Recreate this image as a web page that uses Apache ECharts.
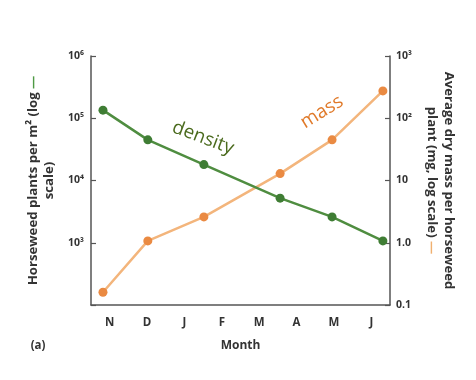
<!DOCTYPE html>
<html>
<head>
<meta charset="utf-8">
<script src="https://cdn.jsdelivr.net/npm/echarts@6/dist/echarts.min.js"></script>
<style>html,body{margin:0;padding:0;background:#fff;}#c{width:476px;height:380px;}</style>
</head>
<body>
<div id="c"></div>
<script>
const months = ['N','D','J','F','M','A','M','J'];
const sampleX = [-0.18, 1.02, 2.52, 4.56, 5.95, 7.31];
const density = [135000, 45000, 18000, 5200, 2600, 1070];
const mass = [0.16, 1.07, 2.6, 12.9, 45, 275];
const leftTicks = {100:'', 1000:'10³', 10000:'10⁴', 100000:'10⁵', 1000000:'10⁶'};
const rightTicks = {0.1:'0.1', 1:'1.0', 10:'10', 100:'10²', 1000:'10³'};

const FONT = '"Open Sans", "DejaVu Sans", sans-serif';
const AX = '#555';
const TF = 13.2;
const chart = echarts.init(document.getElementById('c'), null, {renderer:'canvas'});
function key(v){ const e = Math.round(Math.log10(v)); return Math.pow(10, e); }
chart.setOption({
  animation:false,
  grid:{left:91, right:86, top:56, bottom:75},
  xAxis:[
    {type:'value', min:-0.5, max:7.5, show:false},
    {type:'category', data:months, position:'bottom', boundaryGap:true,
     axisLine:{onZero:false, lineStyle:{color:AX, width:1.5}},
     axisTick:{inside:true, alignWithLabel:true, length:5, lineStyle:{color:AX, width:1.2}},
     axisLabel:{color:'#333', fontWeight:'bold', fontSize:11.5, fontFamily:FONT, margin:12},
     name:'Month', nameLocation:'middle', nameGap:35,
     nameTextStyle:{color:'#333', fontWeight:'bold', fontSize:12, fontFamily:FONT}}
  ],
  yAxis:[
    {type:'log', logBase:10, min:100, max:1000000, position:'left',
     axisLine:{show:true, onZero:false, lineStyle:{color:AX, width:1.5}},
     axisTick:{show:true, inside:true, length:5, lineStyle:{color:AX, width:1.2}},
     minorTick:{show:false}, splitLine:{show:false},
     axisLabel:{color:'#333', fontWeight:'bold', fontSize:10.5, fontFamily:FONT, margin:7,
       formatter:v=>leftTicks[key(v)] ?? ''},
     name:'Horseweed plants per m² (log {g|—}\nscale)', nameLocation:'middle', nameRotate:90, nameGap:31,
     nameTextStyle:{color:'#333', fontWeight:'bold', fontSize:TF, fontFamily:FONT, lineHeight:16,
       rich:{g:{color:'#4f9a45', fontWeight:'bold', fontSize:TF, fontFamily:FONT}}}},
    {type:'log', logBase:10, min:0.1, max:1000, position:'right',
     axisLine:{show:true, onZero:false, lineStyle:{color:AX, width:1.5}},
     axisTick:{show:true, inside:true, length:5, lineStyle:{color:AX, width:1.2}},
     minorTick:{show:false}, splitLine:{show:false},
     axisLabel:{color:'#333', fontWeight:'bold', fontSize:10.5, fontFamily:FONT, margin:6,
       formatter:v=>rightTicks[key(v)] ?? ''},
     name:'Average dry mass per horseweed\nplant (mg, log scale) {o|—}', nameLocation:'middle', nameRotate:-90, nameGap:33,
     nameTextStyle:{color:'#333', fontWeight:'bold', fontSize:TF, fontFamily:FONT, lineHeight:17,
       rich:{o:{color:'#f0b070', fontWeight:'bold', fontSize:TF, fontFamily:FONT}}}}
  ],
  series:[
    {name:'mass', type:'line', xAxisIndex:0, yAxisIndex:1,
     data:sampleX.map((x,i)=>[x, mass[i]]),
     symbol:'circle', symbolSize:9, z:2,
     lineStyle:{color:'#f3b57c', width:2.5},
     itemStyle:{color:'#ea8a42'}},
    {name:'density', type:'line', xAxisIndex:0, yAxisIndex:0,
     data:sampleX.map((x,i)=>[x, density[i]]),
     symbol:'circle', symbolSize:9, z:3,
     lineStyle:{color:'#4f8d40', width:2.5},
     itemStyle:{color:'#3f7d34'}}
  ],
  graphic:[
    {type:'text', x:203, y:138, rotation:-0.36,
     style:{text:'density', fill:'#4b6b1e', font:'19px '+FONT, textAlign:'center', textVerticalAlign:'middle'}},
    {type:'text', x:322, y:112, rotation:0.55,
     style:{text:'mass', fill:'#e07a2a', font:'19px '+FONT, textAlign:'center', textVerticalAlign:'middle'}},
    {type:'text', x:38, y:346,
     style:{text:'(a)', fill:'#333', font:'bold 11.5px '+FONT, textAlign:'center', textVerticalAlign:'middle'}}
  ]
});
</script>
</body>
</html>
